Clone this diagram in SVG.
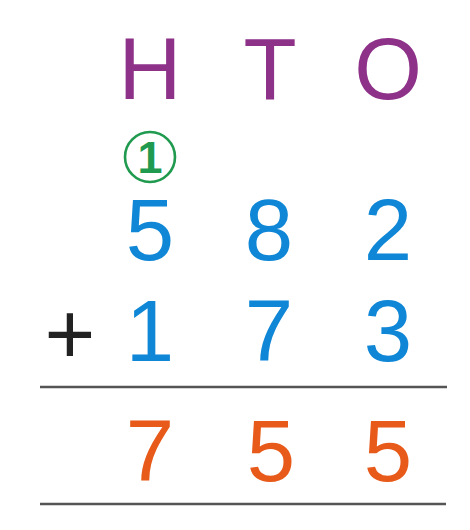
<svg xmlns="http://www.w3.org/2000/svg" width="470" height="530" viewBox="0 0 470 530">
<style>
.d{font-family:"Liberation Sans",Arial,sans-serif;font-size:87px;text-anchor:middle}
.h{fill:#8e3189}
.b{fill:#0f87d6}
.o{fill:#e85a1a}
.r{stroke:#555;stroke-width:2.6}
</style>
<rect width="470" height="530" fill="#fff"/>
<g id="headers">
<text class="d h" x="150" y="99">H</text>
<text class="d h" x="270" y="99">T</text>
<text class="d h" x="388" y="99">O</text>
</g>
<g id="carry">
<circle cx="150" cy="157" r="25" fill="none" stroke="#1f9a4e" stroke-width="2.6"/>
<text x="150" y="173" font-family="Liberation Sans,Arial,sans-serif" font-size="45" font-weight="bold" text-anchor="middle" fill="#1f9a4e">1</text>
</g>
<g id="row1">
<text class="d b" x="150" y="260">5</text>
<text class="d b" x="269" y="260">8</text>
<text class="d b" x="388" y="260">2</text>
</g>
<g id="row2">
<text class="d" x="70" y="364" font-size="92" fill="#222">+</text>
<text class="d b" x="150" y="361">1</text>
<text class="d b" x="269" y="361">7</text>
<text class="d b" x="388" y="361">3</text>
</g>
<g id="lines">
<line class="r" x1="40" y1="387" x2="447" y2="387"/>
<line class="r" x1="40" y1="504" x2="446" y2="504"/>
</g>
<g id="result">
<text class="d o" x="150" y="481">7</text>
<text class="d o" x="271" y="481">5</text>
<text class="d o" x="388" y="481">5</text>
</g>
</svg>
